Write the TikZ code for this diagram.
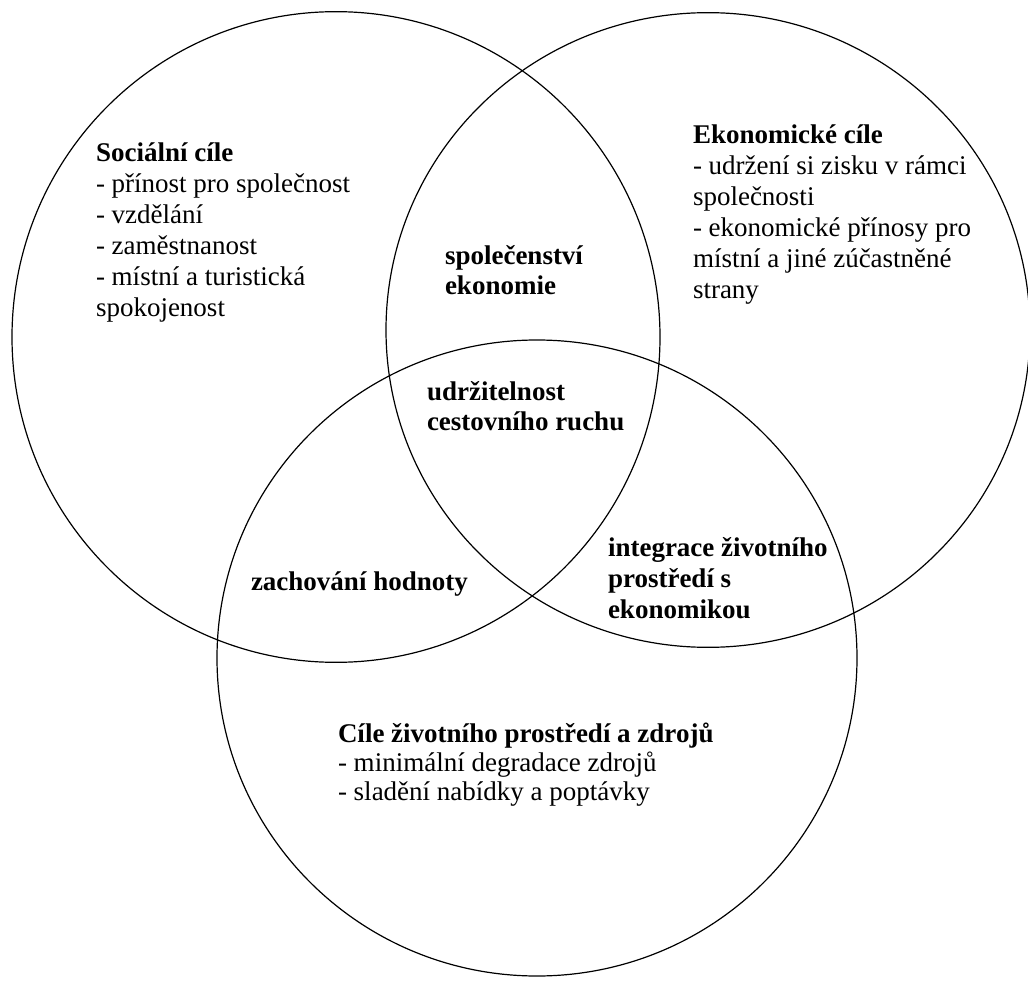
\documentclass[tikz,border=0pt]{standalone}
\usepackage{fontspec}
\setmainfont{Liberation Serif}
\newcommand{\blk}[2]{{\fontsize{20.25}{#1}\selectfont\begin{tabular}[t]{@{}l@{}}#2\end{tabular}}}
\begin{document}
\begin{tikzpicture}[x=0.75pt,y=-0.75pt,
  circ/.style={draw=black,line width=0.9pt},
  lbl/.style={anchor=base west,inner sep=0pt,outer sep=0pt}]
\useasboundingbox (0,0) rectangle (1028,984);
\fill[white] (0,0) rectangle (1028,984);
% circles
\draw[circ] (336,337) ellipse [x radius=243pt, y radius=244pt];
\draw[circ] (708,330) ellipse [x radius=241.5pt, y radius=238pt];
\draw[circ] (537,658) ellipse [x radius=240pt, y radius=238.5pt];
% texts
\node[lbl] (soc) at (96,162) {\blk{23.25pt}{\textbf{Sociální cíle}\\- přínost pro společnost\\- vzdělání\\- zaměstnanost\\- místní a turistická\\spokojenost}};
\node[lbl] (eko) at (693,144) {\blk{23.25pt}{\textbf{Ekonomické cíle}\\- udržení si zisku v rámci\\společnosti\\- ekonomické přínosy pro\\místní a jiné zúčastněné\\strany}};
\node[lbl] (spol) at (445,265) {\blk{22.5pt}{\textbf{společenství}\\\textbf{ekonomie}}};
\node[lbl] (udr) at (427,400) {\blk{23pt}{\textbf{udržitelnost}\\\textbf{cestovního ruchu}}};
\node[lbl] (zach) at (251,590) {\blk{23pt}{\textbf{zachování hodnoty}}};
\node[lbl] (integ) at (608,556) {\blk{23.25pt}{\textbf{integrace životního}\\\textbf{prostředí s}\\\textbf{ekonomikou}}};
\node[lbl] (env) at (338,742) {\blk{22.1pt}{\textbf{Cíle životního prostředí a zdrojů}\\- minimální degradace zdrojů\\- sladění nabídky a poptávky}};
\end{tikzpicture}
\end{document}
